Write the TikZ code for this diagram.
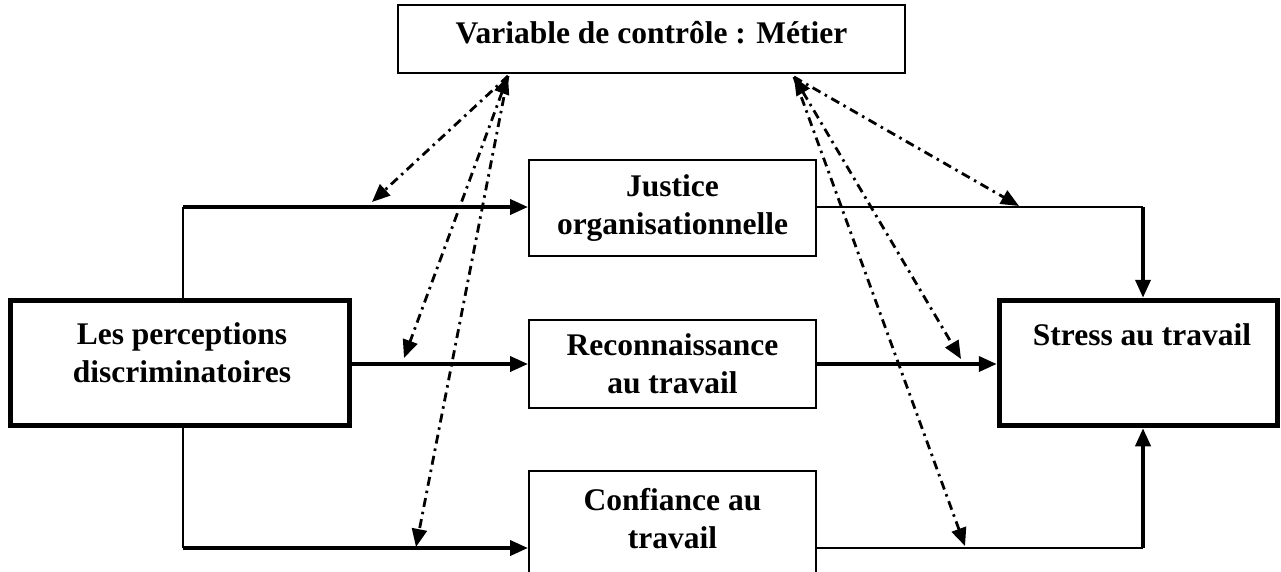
\documentclass[tikz,border=0pt]{standalone}
\usepackage{fontspec}
\setmainfont{Liberation Serif}
\usetikzlibrary{arrows.meta}
\begin{document}
\begin{tikzpicture}[x=1pt,y=-1pt,
  every node/.style={font=\fontsize{31.5}{38}\selectfont\bfseries, inner sep=0pt},
  thinbox/.style={draw, line width=2pt, minimum width=287pt, align=center},
  thickbox/.style={draw, line width=5.5pt, minimum width=339pt, minimum height=125pt},
  txt/.style={align=center},
  thinline/.style={line width=2pt},
  thickarrow/.style={line width=3.8pt, -{Triangle[length=18pt,width=15pt]}},
  ddline/.style={line width=2.8pt, dash pattern=on 9pt off 5pt on 2.5pt off 5pt},
  ddhead/.style={ddline, -{Triangle[length=18pt,width=15pt]}},
  ddboth/.style={ddline, {Triangle[length=18pt,width=15pt]}-{Triangle[length=18pt,width=15pt]}},
]
\useasboundingbox (0,0) rectangle (1281,571);
\clip (0,0) rectangle (1281,571);

% boxes
\node[thinbox, minimum width=507pt, minimum height=68pt] (ctrl) at (651.5,39) {};
\node[txt] (ctrltxt) at (651.5,33) {Variable de contrôle : Métier};
\node[thinbox, minimum height=96pt] (just) at (672.5,208) {Justice\\organisationnelle};
\node[thinbox, minimum height=88pt] (reco) at (672.5,364) {Reconnaissance\\au travail};
\node[thinbox, minimum height=150pt] (conf) at (672.5,546) {};
\node[txt] (conftxt) at (672.5,519) {Confiance au\\travail};
\node[thickbox] (perc) at (180,363) {};
\node[txt] (perctxt) at (182,353) {Les perceptions\\discriminatoires};
\node[thickbox, minimum width=278pt] (stress) at (1138.5,363) {};
\node[txt] (stresstxt) at (1142,335) {Stress au travail};

% corner coordinates
\coordinate (tl) at (183,207);
\coordinate (bl) at (183,548);
\coordinate (tr) at (1143,207);
\coordinate (br) at (1143,548);

% solid connectors
\draw[thinline] (perc.north -| tl) -- (tl);
\draw[thickarrow] (tl) -- (just.west |- tl);
\draw[thinline] (perc.south -| bl) -- (bl);
\draw[thickarrow] (bl) -- (conf.west |- bl);
\draw[thickarrow] (perc.east |- reco.west) -- (reco.west);
\draw[thinline] (just.east |- tr) -- (tr);
\draw[thickarrow] (tr) -- (stress.north -| tr);
\draw[thickarrow] (reco.east) -- (stress.west |- reco.east);
\draw[thinline] (conf.east |- br) -- (br);
\draw[thickarrow] (br) -- (stress.south -| br);

% dash-dot connectors
\coordinate (dA) at (508,76);
\coordinate (dB) at (794,77);
\coordinate (d1) at (372,202);
\coordinate (d2) at (404,358);
\coordinate (d3) at (416,547);
\coordinate (d4) at (1019,206);
\coordinate (d5) at (961,359);
\coordinate (d6) at (965,546);
\draw[ddhead] (dA) -- (d1);
\draw[ddboth] (dA) -- (d2);
\draw[ddhead] (dA) -- (d3);
\draw[ddhead] (dB) -- (d4);
\draw[ddboth] (dB) -- (d5);
\draw[ddhead] (dB) -- (d6);
\end{tikzpicture}
\end{document}
